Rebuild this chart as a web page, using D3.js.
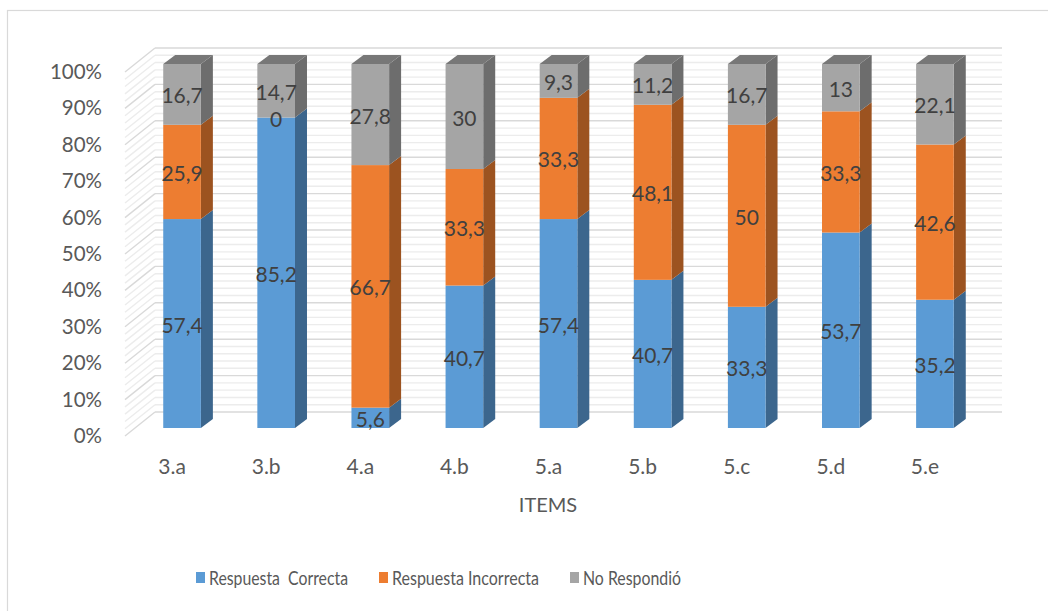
<!DOCTYPE html>
<html>
<head>
<meta charset="utf-8">
<script src="https://cdn.jsdelivr.net/npm/d3@7"></script>
<style>
  html, body { margin: 0; padding: 0; background: #ffffff; }
  svg { display: block; font-family: Lato, "Open Sans", sans-serif; }
</style>
</head>
<body>
<svg id="chart" width="1048" height="611"></svg>
<script>
// Item results: share of answers per item (100% stacked, 3D columns)
const categories = ["3.a", "3.b", "4.a", "4.b", "5.a", "5.b", "5.c", "5.d", "5.e"];
const correcta = [57.4, 85.2, 5.6, 40.7, 57.4, 40.7, 33.3, 53.7, 35.2];
const incorrecta = [25.9, 0, 66.7, 33.3, 33.3, 48.1, 50, 33.3, 42.6];
const noRespondio = [16.7, 14.7, 27.8, 30, 9.3, 11.2, 16.7, 13, 22.1];
const seriesKeys = ["correcta", "incorrecta", "noRespondio"];
const seriesNames = ["Respuesta  Correcta", "Respuesta Incorrecta", "No Respondió"];
const seriesColors = ["#5b9bd5", "#ed7d31", "#a5a5a5"];
const yTicks = [0, 0.1, 0.2, 0.3, 0.4, 0.5, 0.6, 0.7, 0.8, 0.9, 1];
const yMinor = d3.range(0, 51).map(i => i / 50);
const axisTitle = "ITEMS";

const rows = categories.map((c, i) => ({
  cat: c,
  correcta: correcta[i],
  incorrecta: incorrecta[i],
  noRespondio: noRespondio[i]
}));

const svg = d3.select("#chart");

// outer chart frame
svg.append("rect")
  .attr("x", 7.5).attr("y", 10.5)
  .attr("width", 1060).attr("height", 620)
  .attr("fill", "#fff").attr("stroke", "#d9d9d9").attr("stroke-width", 1.2);

// front plane scales
const x = d3.scaleBand().domain(categories).range([125, 972]).paddingInner(0).paddingOuter(0);
const y = d3.scaleLinear().domain([0, 1]).range([436, 72]);

// oblique depth projection
const wallDepth = { dx: 30, dy: -24 };
const barFront = { dx: 10, dy: -8 };
const barBack = { dx: 22, dy: -17 };
const barWidth = x.bandwidth() * 0.4;

const stack = d3.stack().keys(seriesKeys).offset(d3.stackOffsetExpand);
const series = stack(rows);

// ---- walls ----
const walls = svg.append("g");
const x0 = x.range()[0], x1 = x.range()[1];
// minor lines
yMinor.filter(v => Math.round(v * 50) % 5 !== 0).forEach(v => {
  const yy = y(v);
  walls.append("line")
    .attr("x1", x0 + wallDepth.dx).attr("x2", x1 + wallDepth.dx)
    .attr("y1", yy + wallDepth.dy).attr("y2", yy + wallDepth.dy)
    .attr("stroke", "#ececec").attr("stroke-width", 1.4);
  walls.append("line")
    .attr("x1", x0).attr("x2", x0 + wallDepth.dx)
    .attr("y1", yy).attr("y2", yy + wallDepth.dy)
    .attr("stroke", "#ececec").attr("stroke-width", 1.4);
});
// major lines
yTicks.forEach(v => {
  const yy = y(v);
  walls.append("line")
    .attr("x1", x0 + wallDepth.dx).attr("x2", x1 + wallDepth.dx)
    .attr("y1", yy + wallDepth.dy).attr("y2", yy + wallDepth.dy)
    .attr("stroke", "#d9d9d9").attr("stroke-width", 1.4);
  walls.append("line")
    .attr("x1", x0).attr("x2", x0 + wallDepth.dx)
    .attr("y1", yy).attr("y2", yy + wallDepth.dy)
    .attr("stroke", "#d9d9d9").attr("stroke-width", 1.4);
});

// ---- bars ----
const shade = (c, k) => {
  const col = d3.rgb(c);
  return d3.rgb(col.r * k, col.g * k, col.b * k).formatHex();
};
const bars = svg.append("g");
const pt = (px, py) => px.toFixed(2) + "," + py.toFixed(2);

categories.forEach((cat, ci) => {
  const left = x(cat) + x.bandwidth() / 2 - barWidth / 2;
  const right = left + barWidth;
  const fx = barFront.dx, fy = barFront.dy;
  const bx = barBack.dx, by = barBack.dy;
  series.forEach((s, si) => {
    const d = s[ci];
    const yb = y(d[0]), yt = y(d[1]);
    if (yb - yt <= 0) return;
    // side face
    bars.append("polygon")
      .attr("points", [
        pt(right + fx, yb + fy), pt(right + bx, yb + by),
        pt(right + bx, yt + by), pt(right + fx, yt + fy)
      ].join(" "))
      .attr("fill", shade(seriesColors[si], 0.66));
    // front face
    bars.append("rect")
      .attr("x", left + fx).attr("y", yt + fy)
      .attr("width", barWidth).attr("height", yb - yt)
      .attr("fill", seriesColors[si]);
  });
  // top face on the highest segment
  const topSeries = series.length - 1;
  const yt = y(series[topSeries][ci][1]);
  bars.append("polygon")
    .attr("points", [
      pt(left + fx, yt + fy), pt(right + fx, yt + fy),
      pt(right + bx, yt + by), pt(left + bx, yt + by)
    ].join(" "))
    .attr("fill", shade(seriesColors[topSeries], 0.72));
});

// ---- value labels ----
const labels = svg.append("g")
  .attr("font-size", 21).attr("fill", "#404040").attr("text-anchor", "middle");
series.forEach((s, si) => {
  s.forEach((d, ci) => {
    const raw = d.data[seriesKeys[si]];
    const cx = x(categories[ci]) + x.bandwidth() / 2 + barFront.dx;
    const cy = (y(d[0]) + y(d[1])) / 2 + barFront.dy;
    labels.append("text")
      .attr("x", cx).attr("y", cy + 9)
      .text(String(raw).replace(".", ","));
  });
});

// ---- axes ----
const yAxis = svg.append("g")
  .attr("transform", "translate(110,0)")
  .call(d3.axisLeft(y).tickValues(yTicks).tickSize(0).tickPadding(8)
    .tickFormat(d3.format(".0%")));
yAxis.select(".domain").remove();
yAxis.selectAll("text")
  .attr("font-family", "Lato, sans-serif").attr("font-size", 20.5).attr("fill", "#595959");

const xAxis = svg.append("g")
  .attr("transform", "translate(0,451)")
  .call(d3.axisBottom(x).tickSize(0).tickPadding(8));
xAxis.select(".domain").remove();
xAxis.selectAll("text")
  .attr("font-family", "Lato, sans-serif").attr("font-size", 21).attr("fill", "#595959");

svg.append("text")
  .attr("x", 548).attr("y", 512)
  .attr("text-anchor", "middle")
  .attr("font-size", 20).attr("fill", "#595959")
  .text(axisTitle);

// ---- legend (condensed entries) ----
const legendX = [196, 379, 570];
const legendLen = [139, 147, 98];
const legend = svg.append("g");
seriesNames.forEach((name, i) => {
  legend.append("rect")
    .attr("x", legendX[i]).attr("y", 572)
    .attr("width", 9).attr("height", 11)
    .attr("fill", seriesColors[i]);
  legend.append("text")
    .attr("x", legendX[i] + 13).attr("y", 585)
    .attr("font-size", 19.5).attr("fill", "#595959")
    .attr("textLength", legendLen[i])
    .attr("lengthAdjust", "spacingAndGlyphs")
    .style("white-space", "pre")
    .text(name);
});
</script>
</body>
</html>
